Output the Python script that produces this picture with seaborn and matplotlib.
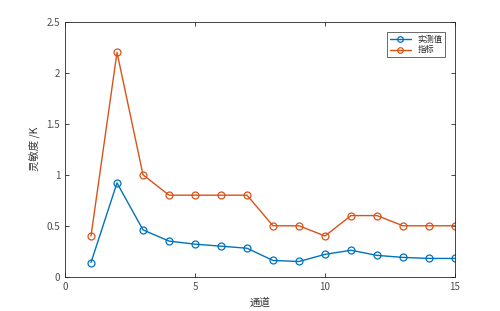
import matplotlib
matplotlib.use("Agg")
import matplotlib.pyplot as plt
import seaborn as sns
import pandas as pd

channels = list(range(1, 16))
measured = [0.14, 0.92, 0.46, 0.35, 0.32, 0.30, 0.28, 0.16, 0.15, 0.22, 0.26, 0.21, 0.19, 0.18, 0.18]
spec = [0.4, 2.2, 1.0, 0.8, 0.8, 0.8, 0.8, 0.5, 0.5, 0.4, 0.6, 0.6, 0.5, 0.5, 0.5]
series_names = ["实测值", "指标"]
x_ticks = [0, 5, 10, 15]
y_ticks = [0, 0.5, 1, 1.5, 2, 2.5]

sns.set_theme(style="white")
plt.rcParams['font.family'] = ['Noto Sans CJK SC', 'DejaVu Sans']

df = pd.DataFrame({
    "x": channels * 2,
    "y": measured + spec,
    "s": [series_names[0]] * 15 + [series_names[1]] * 15,
})

fig = plt.figure(figsize=(5.0, 3.11), dpi=100)
ax = fig.add_axes([0.13, 0.11, 0.78, 0.82])
sns.lineplot(data=df, x="x", y="y", hue="s", palette=["#0072BD", "#D95319"],
             marker="o", markersize=5, markerfacecolor="none", markeredgewidth=0.9,
             linewidth=1.0, ax=ax, legend=True)
for line in ax.lines:
    line.set_markeredgecolor(line.get_color())
    line.set_markerfacecolor("none")

ax.set_xlim(0, 15)
ax.set_ylim(0, 2.5)
ax.set_xticks(x_ticks)
ax.set_yticks(y_ticks)
ax.set_yticklabels(["0", "0.5", "1", "1.5", "2", "2.5"])
ax.tick_params(direction="in", length=3, width=0.6, labelsize=7, colors="#262626",
               top=True, right=True, bottom=True, left=True, labelcolor="#4d4d4d")
for sp in ax.spines.values():
    sp.set_linewidth(0.6)
    sp.set_color("#262626")
ax.set_xlabel("通道", fontsize=7.5, color="#333333")
ax.set_ylabel("灵敏度 /K", fontsize=7.5, color="#333333")

leg = ax.legend(loc="upper right", fontsize=6, frameon=True, fancybox=False,
                edgecolor="#262626", borderpad=0.3, handlelength=2.5,
                labelspacing=0.2, bbox_to_anchor=(0.985, 0.975))
leg.get_frame().set_linewidth(0.6)
for h in leg.get_lines():
    h.set_markerfacecolor("none")
    h.set_markersize(4)

fig.savefig("out.png", dpi=100, facecolor="white")
